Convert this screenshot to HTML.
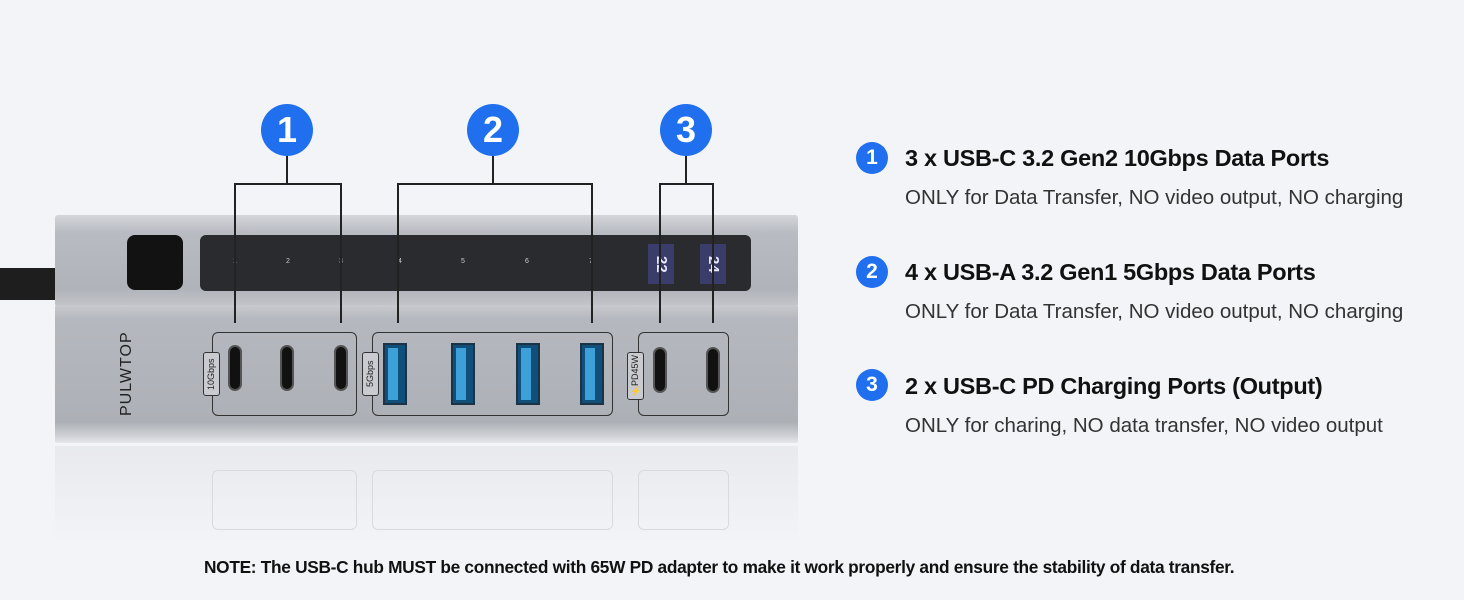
<!DOCTYPE html>
<html><head><meta charset="utf-8"><style>
*{margin:0;padding:0;box-sizing:border-box}
body{width:1464px;height:600px;background:#f3f4f8;position:relative;overflow:hidden;font-family:"Liberation Sans",sans-serif}
.a{position:absolute}
.num{position:absolute;border-radius:50%;background:#1f6fee;color:#fff;font-weight:bold;text-align:center}
.big{width:52px;height:52px;line-height:52px;font-size:36px}
.sm{width:32px;height:32px;line-height:32px;font-size:21px}
.ln{position:absolute;background:#222}
.t{position:absolute;left:905px;font-weight:bold;font-size:23.5px;color:#111;letter-spacing:-0.3px}
.s{position:absolute;left:905px;font-size:20.5px;color:#333}
.box{position:absolute;border:1.5px solid #333;border-radius:6px}
.c{position:absolute;width:14px;height:46px;background:#111;border-radius:7px;border:2px solid #555}
.u{position:absolute;width:24px;height:62px;background:#0f4f7a;border:2px solid #1c3346}
.u::after{content:"";position:absolute;left:3px;top:3px;width:10px;height:52px;background:#3ea0d8}
.lab{position:absolute;border:1.3px solid #333;border-radius:3px;background:#c9cbd0;font-size:9px;color:#222;writing-mode:vertical-rl;transform:rotate(180deg);text-align:center;line-height:14px}
.d{position:absolute;top:258px;font-size:7px;color:#ccc}
.disp{position:absolute;top:244px;width:26px;height:40px;background:#3a3d6a;color:#e6e8ff;font-size:15px;font-weight:bold;writing-mode:vertical-rl;line-height:26px;text-align:center}
</style></head><body>
<div class="num big" style="left:261px;top:104px">1</div>
<div class="num big" style="left:467px;top:104px">2</div>
<div class="num big" style="left:660px;top:104px">3</div>
<div class="ln" style="left:286px;top:156px;width:2px;height:28px"></div>
<div class="ln" style="left:234px;top:183px;width:108px;height:2px"></div>
<div class="ln" style="left:492px;top:156px;width:2px;height:28px"></div>
<div class="ln" style="left:397px;top:183px;width:195px;height:2px"></div>
<div class="ln" style="left:685px;top:156px;width:2px;height:28px"></div>
<div class="ln" style="left:659px;top:183px;width:55px;height:2px"></div>

<div class="a" style="left:0;top:268px;width:60px;height:32px;background:#1e1e1e"></div>
<div class="a" style="left:55px;top:215px;width:743px;height:92px;background:linear-gradient(#d3d5da,#b8bbc1 20%,#b0b3b9 80%,#c4c6cb);border-radius:3px"></div>
<div class="a" style="left:55px;top:305px;width:743px;height:138px;background:linear-gradient(#c8cacf,#b5b8be 10%,#adb0b6 85%,#cfd1d6 95%,#e6e7ea);border-radius:2px"></div>
<div class="a" style="left:127px;top:235px;width:56px;height:55px;background:#121212;border-radius:8px"></div>
<div class="a" style="left:200px;top:235px;width:551px;height:56px;background:#2a2b2e;border-radius:6px"></div>
<div class="d" style="left:233px">1</div><div class="d" style="left:286px">2</div><div class="d" style="left:339px">3</div><div class="d" style="left:398px">4</div><div class="d" style="left:461px">5</div><div class="d" style="left:525px">6</div><div class="d" style="left:589px">7</div>
<div class="disp" style="left:648px">22</div>
<div class="disp" style="left:700px">24</div>
<div class="a" style="left:118px;top:322px;width:30px;height:104px;font-size:16px;color:#222;writing-mode:vertical-rl;transform:rotate(180deg);letter-spacing:1px;text-align:center">PULWTOP</div>

<div class="ln" style="left:234px;top:183px;width:1.5px;height:140px"></div>
<div class="ln" style="left:340px;top:183px;width:1.5px;height:140px"></div>
<div class="ln" style="left:397px;top:183px;width:1.5px;height:140px"></div>
<div class="ln" style="left:591px;top:183px;width:1.5px;height:140px"></div>
<div class="ln" style="left:659px;top:183px;width:1.5px;height:140px"></div>
<div class="ln" style="left:712px;top:183px;width:1.5px;height:140px"></div>

<div class="box" style="left:212px;top:332px;width:145px;height:84px"></div>
<div class="box" style="left:372px;top:332px;width:241px;height:84px"></div>
<div class="box" style="left:638px;top:332px;width:91px;height:84px"></div>
<div class="lab" style="left:203px;top:352px;width:17px;height:44px">10Gbps</div>
<div class="lab" style="left:362px;top:352px;width:17px;height:44px">5Gbps</div>
<div class="lab" style="left:627px;top:352px;width:17px;height:48px">⚡PD45W</div>
<div class="c" style="left:228px;top:345px"></div>
<div class="c" style="left:280px;top:345px"></div>
<div class="c" style="left:334px;top:345px"></div>
<div class="u" style="left:383px;top:343px"></div>
<div class="u" style="left:451px;top:343px"></div>
<div class="u" style="left:516px;top:343px"></div>
<div class="u" style="left:580px;top:343px"></div>
<div class="c" style="left:653px;top:347px"></div>
<div class="c" style="left:706px;top:347px"></div>

<div class="a" style="left:55px;top:446px;width:743px;height:100px;background:linear-gradient(#e4e5e9,#f3f4f8);opacity:.7"></div>
<div class="a" style="left:212px;top:470px;width:145px;height:60px;border:1px solid #d9dadf;border-radius:6px"></div>
<div class="a" style="left:372px;top:470px;width:241px;height:60px;border:1px solid #d9dadf;border-radius:6px"></div>
<div class="a" style="left:638px;top:470px;width:91px;height:60px;border:1px solid #d9dadf;border-radius:6px"></div>

<div class="num sm" style="left:856px;top:142px">1</div>
<div class="t" style="top:145px">3 x USB-C 3.2 Gen2 10Gbps Data Ports</div>
<div class="s" style="top:186px">ONLY for Data Transfer, NO video output, NO charging</div>
<div class="num sm" style="left:856px;top:256px">2</div>
<div class="t" style="top:259px">4 x USB-A 3.2 Gen1 5Gbps Data Ports</div>
<div class="s" style="top:300px">ONLY for Data Transfer, NO video output, NO charging</div>
<div class="num sm" style="left:856px;top:369px">3</div>
<div class="t" style="top:373px">2 x USB-C PD Charging Ports (Output)</div>
<div class="s" style="top:414px">ONLY for charing, NO data transfer, NO video output</div>

<div class="a" style="left:204px;top:557px;font-size:17.3px;font-weight:bold;color:#111;letter-spacing:-0.3px;white-space:nowrap">NOTE: The USB-C hub MUST be connected with 65W PD adapter to make it work properly and ensure the stability of data transfer.</div>
</body></html>
